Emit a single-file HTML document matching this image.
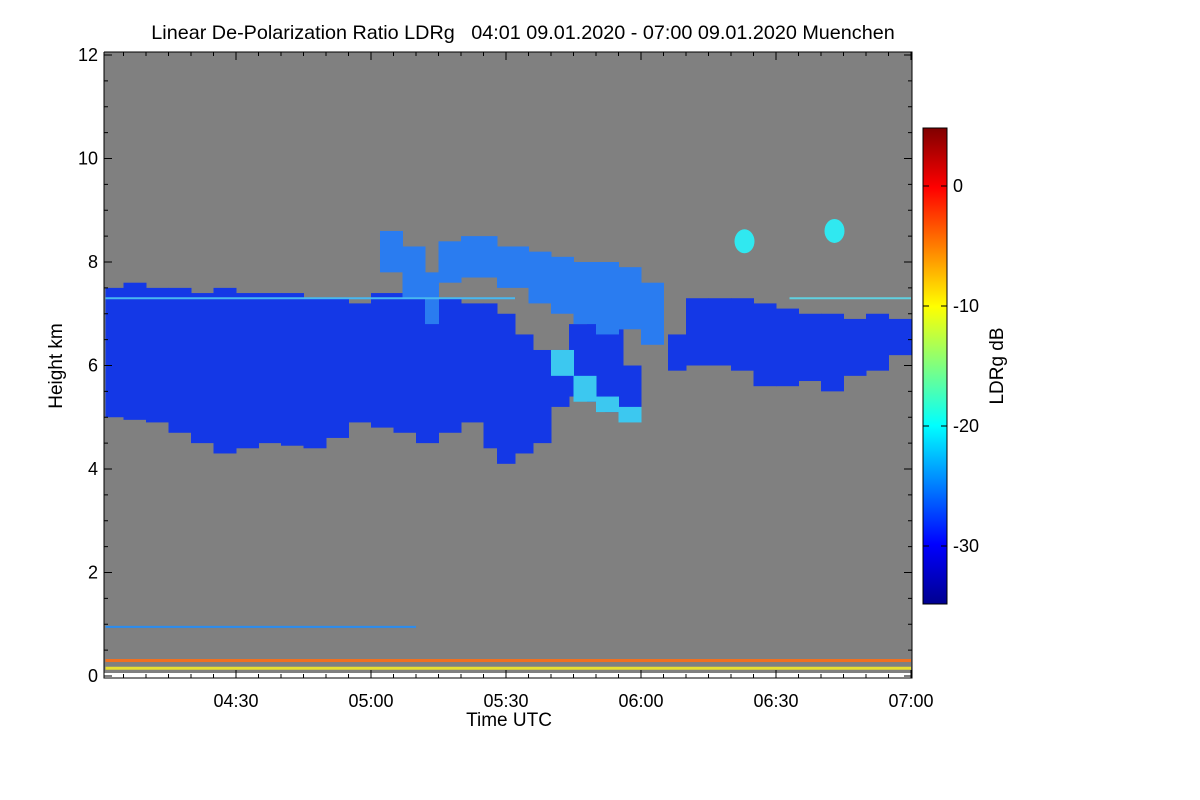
<!DOCTYPE html>
<html><head><meta charset="utf-8"><style>
body{margin:0;background:#fff;}
svg{display:block;font-family:"Liberation Sans",sans-serif;}
</style></head><body>
<svg id="chart" width="1200" height="800">
<defs>
<linearGradient id="jet" x1="0" y1="1" x2="0" y2="0">
<stop offset="0" stop-color="#00008f"/><stop offset="0.125" stop-color="#0000ff"/>
<stop offset="0.375" stop-color="#00ffff"/><stop offset="0.625" stop-color="#ffff00"/>
<stop offset="0.875" stop-color="#ff0000"/><stop offset="1" stop-color="#800000"/>
</linearGradient>
</defs>
</svg>
<script>
// minutes after 04:00
const mainTimes=[1,5,10,15,20,25,30,35,40,45,50,55,60,65,70,75,80,85,88,92,96,100,104,108,112,116,120,126,130,135,140,145,150,155,160,165,170,175,180];
const mainBase=[5.0,4.95,4.9,4.7,4.5,4.3,4.4,4.5,4.45,4.4,4.6,4.9,4.8,4.7,4.5,4.7,4.9,4.4,4.1,4.3,4.5,5.2,5.4,5.3,5.1,5.0,6.0,5.9,6.0,6.0,5.9,5.6,5.6,5.7,5.5,5.8,5.9,6.2,5.9];
const mainTop=[7.5,7.6,7.5,7.5,7.4,7.5,7.4,7.4,7.4,7.3,7.3,7.2,7.4,7.4,7.3,7.3,7.2,7.2,7.0,6.6,6.3,6.3,6.8,6.9,6.7,6.0,6.0,6.6,7.3,7.3,7.3,7.2,7.1,7.0,7.0,6.9,7.0,6.9,6.9];
const upperTimes=[62,67,72,75,80,88,95,100,105,110,115,120,125];
const upperBase=[7.8,7.3,6.8,7.6,7.7,7.5,7.2,7.0,6.8,6.6,6.7,6.4,6.9];
const upperTop=[8.6,8.3,7.8,8.4,8.5,8.3,8.2,8.1,8.0,8.0,7.9,7.6,7.4];
const streakTimes=[100,105,110,115,120];
const streakBase=[5.8,5.3,5.1,4.9,4.8];
const streakTop=[6.3,5.8,5.4,5.2,5.0];
const blobTimes=[143,163];
const blobHeights=[8.4,8.6];
const xTicks=["04:30","05:00","05:30","06:00","06:30","07:00"];
const xTickMin=[30,60,90,120,150,180];
const yTicks=[0,2,4,6,8,10,12];
const cbTicks=[0,-10,-20,-30];

const NS="http://www.w3.org/2000/svg";
const svg=document.getElementById('chart');
const X=m=>101+4.5*m, Y=k=>676-51.75*k, CB=v=>186-12*v;
function el(t,a,p){const e=document.createElementNS(NS,t);for(const k in a)e.setAttribute(k,a[k]);(p||svg).appendChild(e);return e;}

const bg=el('rect',{x:104,y:52,width:808,height:621,fill:'#808080'});



function layer(times,base,top,color,name){
  const g=el('g',{});
  
  
  for(let i=0;i<times.length-1;i++){
    if(top[i]<=base[i])continue;
    const r=el('rect',{x:X(times[i]),y:Y(top[i]),width:X(times[i+1])-X(times[i])+0.5,height:Y(base[i])-Y(top[i]),fill:color},g);
    
    
  }
}
layer(mainTimes,mainBase,mainTop,'#1438e6','main-cloud-layer');
layer(upperTimes,upperBase,upperTop,'#2a7cf0','upper-fallstreaks');
layer(streakTimes,streakBase,streakTop,'#3cc8f0','cyan-fallstreak');
blobTimes.forEach((t,i)=>{
  const b=el('ellipse',{cx:X(t),cy:Y(blobHeights[i]),rx:10,ry:12,fill:'#30e8f0'});
  
  
});
// range-gate artifact lines
[[1,92,7.3,'#48b8f0',2],[153,180,7.3,'#60d0e0',2],[1,70,0.95,'#2a8cf0',2],[1,180,0.3,'#f07020',3],[1,180,0.15,'#e8e030',3]].forEach(a=>{
  const l=el('line',{x1:X(a[0]),x2:X(a[1]),y1:Y(a[2]),y2:Y(a[2]),stroke:a[3],'stroke-width':a[4]});
  
  
});
el('rect',{x:104,y:673,width:808,height:5,fill:'#fff'});
// axes
const ax=el('path',{d:'M104,52V678H912V52H104',fill:'none',stroke:'#000','stroke-width':1});


for(let m=5;m<=180;m+=5){
  const major=m%30===0, len=major?8:4;
  el('line',{x1:X(m),x2:X(m),y1:678,y2:678-len,stroke:'#000'});
  el('line',{x1:X(m),x2:X(m),y1:52,y2:52+len,stroke:'#000'});
}
xTicks.forEach((t,i)=>{
  const tx=el('text',{x:X(xTickMin[i]),y:707,'font-size':18,'text-anchor':'middle'});tx.textContent=t;
  
  
});
for(let k=0;k<=12;k+=0.5){
  const len=(k%2===0)?8:4;
  el('line',{x1:104,x2:104+len,y1:Y(k),y2:Y(k),stroke:'#000'});
  el('line',{x1:912,x2:912-len,y1:Y(k),y2:Y(k),stroke:'#000'});
}
yTicks.forEach(k=>{
  const tx=el('text',{x:98,y:Y(k)+6,'font-size':18,'text-anchor':'end'});tx.textContent=k;
  
  
});
let t=el('text',{x:509,y:726,'font-size':19,'text-anchor':'middle'});t.textContent='Time UTC';


t=el('text',{x:0,y:0,'font-size':19,'text-anchor':'middle',transform:'translate(62,366) rotate(-90)'});t.textContent='Height km';


t=el('text',{x:523,y:39,'font-size':19.8,'text-anchor':'middle'});t.textContent='Linear De-Polarization Ratio LDRg   04:01 09.01.2020 - 07:00 09.01.2020 Muenchen';


t.setAttribute('xml:space','preserve');t.style.whiteSpace='pre';
// colorbar
const cb=el('rect',{x:923,y:128,width:24,height:476,fill:'url(#jet)',stroke:'#000'});


cbTicks.forEach(v=>{
  el('line',{x1:947,x2:941,y1:CB(v),y2:CB(v),stroke:'#000'});
  el('line',{x1:923,x2:929,y1:CB(v),y2:CB(v),stroke:'#000'});
  const tx=el('text',{x:953,y:CB(v)+6,'font-size':18});tx.textContent=v;
  
  
});
t=el('text',{x:0,y:0,'font-size':19,'text-anchor':'middle',transform:'translate(1003,366) rotate(-90)'});t.textContent='LDRg dB';


</script>
</body></html>
